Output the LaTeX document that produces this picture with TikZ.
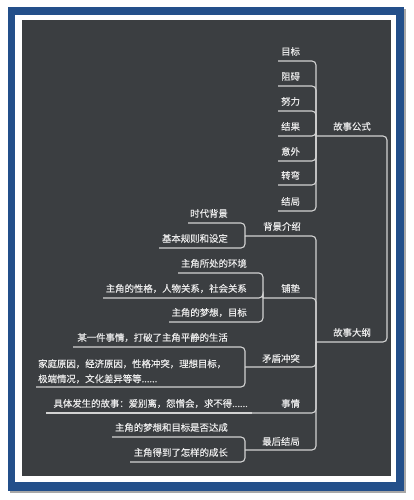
\documentclass[tikz,border=0pt]{standalone}
\usepackage{fontspec}
\newfontfamily\cjk[FakeBold=0.4]{Noto Sans CJK SC}
\definecolor{frameblue}{HTML}{234F8A}
\definecolor{shadowc}{HTML}{A8A8A8}
\definecolor{panel}{HTML}{3B3E41}
\definecolor{linec}{HTML}{D2D2D2}
\definecolor{textc}{HTML}{EAEAEA}
\begin{document}
\begin{tikzpicture}[x=1pt,y=-1pt,
  conn/.style={draw=linec, line width=1.1pt, rounded corners=4pt},
  topic/.style={text=textc, font=\cjk\fontsize{9.4}{15}\selectfont, inner sep=0pt, anchor=base west},
  leftt/.style={topic, anchor=base east}]
\useasboundingbox (0,0) rectangle (413,500);
% frame
\fill[shadowc] (10,9) rectangle (406,493);
\fill[frameblue] (8,7) rectangle (404,491);
\fill[white] (15,15) rectangle (396,482);
\fill[panel] (22,20) rectangle (391,476);

% underline left ends
\coordinate (gsL) at (316,136);
\coordinate (gsC1) at (387,136);
\coordinate (gsC2) at (387,342);
\coordinate (gdL) at (316,342);
\coordinate (mbL) at (278,61);
\coordinate (zaL) at (278,86);
\coordinate (nlL) at (278,111);
\coordinate (jgL) at (278,136);
\coordinate (ywL) at (278,161);
\coordinate (zwL) at (278,185);
\coordinate (jjL) at (278,211);
\coordinate (bjL) at (245,236);
\coordinate (pdL) at (263,298);
\coordinate (mdL) at (245,367);
\coordinate (sqL) at (252,413);
\coordinate (zhL) at (245,450);
\coordinate (sdL) at (188,223);
\coordinate (gzL) at (159,248);
\coordinate (hjL) at (178,273);
\coordinate (xgL) at (103,298);
\coordinate (mxL) at (169,322);
\coordinate (mjL) at (73,347);
\coordinate (yyL) at (36,387);
\coordinate (jtL) at (46,413);
\coordinate (dcL) at (112,437);
\coordinate (czL) at (130,462);

% connectors
\draw[conn] (gsL) -- (gsC1) -- (gsC2) -- (gdL);
\foreach \c in {mbL,zaL,nlL,jgL,ywL,zwL,jjL} \draw[conn] (gsL) |- (\c);
\foreach \c in {bjL,pdL,mdL,sqL,zhL} \draw[conn] (gdL) |- (\c);
\foreach \c in {sdL,gzL} \draw[conn] (bjL) |- (\c);
\foreach \c in {hjL,xgL,mxL} \draw[conn] (pdL) |- (\c);
\foreach \c in {mjL,yyL} \draw[conn] (mdL) |- (\c);
\draw[conn] (sqL) -- (jtL);
\foreach \c in {dcL,czL} \draw[conn] (zhL) |- (\c);

% texts
\node[topic] (gs) at (333,130) {故事公式};
\node[topic] (gd) at (333,336) {故事大纲};
\node[topic] (mb) at (281,55) {目标};
\node[topic] (za) at (281,80) {阻碍};
\node[topic] (nl) at (281,105) {努力};
\node[topic] (jg) at (281,130) {结果};
\node[topic] (yw) at (281,155) {意外};
\node[topic] (zw) at (281,179) {转弯};
\node[topic] (jj) at (281,205) {结局};
\node[topic] (bj) at (263,230) {背景介绍};
\node[topic] (pd) at (281,292) {铺垫};
\node[topic] (md) at (262,362) {矛盾冲突};
\node[topic] (sq) at (281,407) {事情};
\node[topic] (zh) at (262,445) {最后结局};
\node[leftt] (sd) at (228,217) {时代背景};
\node[leftt] (gz) at (228,242) {基本规则和设定};
\node[leftt] (hj) at (247,267) {主角所处的环境};
\node[leftt] (xg) at (247,292) {主角的性格，人物关系，社会关系};
\node[leftt] (mx) at (247,316) {主角的梦想，目标};
\node[leftt] (mj) at (228,341) {某一件事情，打破了主角平静的生活};
\node[topic, align=left, anchor=south west] (yy) at (38,383.5) {家庭原因，经济原因，性格冲突，理想目标，\\极端情况，文化差异等等......};
\node[leftt] (jt) at (248,407) {具体发生的故事：爱别离，怨憎会，求不得......};
\node[leftt] (dc) at (228,431) {主角的梦想和目标是否达成};
\node[leftt] (cz) at (228,456) {主角得到了怎样的成长};
\end{tikzpicture}
\end{document}
